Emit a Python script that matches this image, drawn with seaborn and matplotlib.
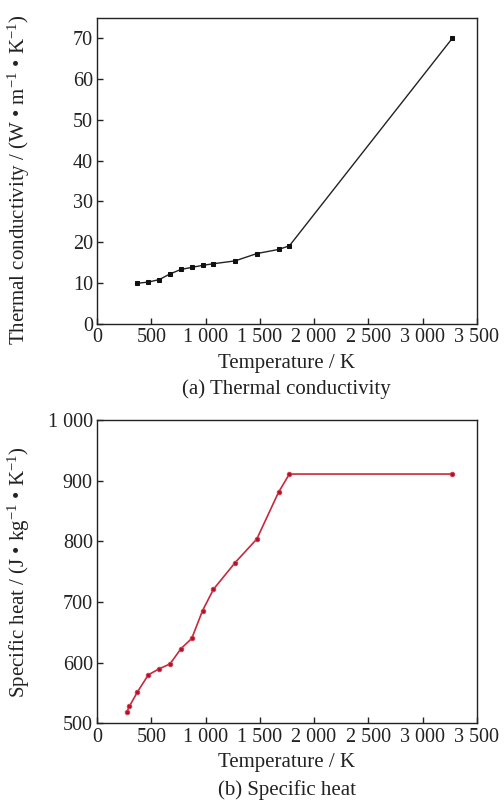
import matplotlib
matplotlib.use("Agg")
import matplotlib.pyplot as plt
import seaborn as sns
import pandas as pd

# thermal conductivity (a)
temp_k = [373, 473, 573, 673, 773, 873, 973, 1073, 1273, 1473, 1673, 1773, 3273]
conductivity = [9.9, 10.2, 10.8, 12.2, 13.3, 13.8, 14.3, 14.7, 15.4, 17.2, 18.2, 19.1, 70.0]

# specific heat (b)
temp_cp = [273, 298, 373, 473, 573, 673, 773, 873, 973, 1073, 1273, 1473, 1673, 1773, 3273]
specific_heat = [518, 528, 552, 580, 590, 598, 623, 640, 686, 721, 765, 804, 881, 911, 911]

x_ticks = [0, 500, 1000, 1500, 2000, 2500, 3000, 3500]
y_ticks_a = [0, 10, 20, 30, 40, 50, 60, 70]
y_ticks_b = [500, 600, 700, 800, 900, 1000]


def fmt(v):
    return f"{int(v):,}".replace(",", " ")


sns.set_style("ticks")
plt.rcParams["font.family"] = ["Liberation Serif", "DejaVu Serif"]
plt.rcParams["mathtext.fontset"] = "custom"
plt.rcParams["mathtext.rm"] = "Liberation Serif"
plt.rcParams["mathtext.it"] = "Liberation Serif:italic"

fig = plt.figure(figsize=(5.04, 8.05), dpi=100)
ax1 = fig.add_axes([0.1925, 0.598, 0.7535, 0.3795])
ax2 = fig.add_axes([0.1925, 0.1014, 0.7535, 0.3768])

df_a = pd.DataFrame({"T": temp_k, "k": conductivity})
df_b = pd.DataFrame({"T": temp_cp, "cp": specific_heat})

sns.lineplot(data=df_a, x="T", y="k", ax=ax1, color="#222222", lw=1.0,
             marker="s", markersize=3, markerfacecolor="#111111",
             markeredgecolor="#111111")
sns.lineplot(data=df_b, x="T", y="cp", ax=ax2, color="#c8283c", lw=1.2,
             marker="o", markersize=3.2, markerfacecolor="#b0102a",
             markeredgecolor="#d04050")

ax1.set_ylim(0, 75)
ax2.set_ylim(500, 1000)
ax1.set_yticks(y_ticks_a, [fmt(v) for v in y_ticks_a])
ax2.set_yticks(y_ticks_b, [fmt(v) for v in y_ticks_b])

for ax in (ax1, ax2):
    ax.set_xlim(0, 3500)
    ax.set_xticks(x_ticks, [fmt(v) for v in x_ticks])
    ax.tick_params(direction="in", length=4, width=1, labelsize=14.5,
                   colors="#222222", pad=3)
    for s in ax.spines.values():
        s.set_linewidth(1.0)
        s.set_color("#222222")
    ax.set_xlabel("Temperature / K", fontsize=15, color="#222222", labelpad=5)

ax1.set_ylabel("Thermal conductivity / (W • m$^{-1}$ • K$^{-1}$)",
               fontsize=15, color="#222222")
ax2.set_ylabel("Specific heat / (J • kg$^{-1}$ • K$^{-1}$)",
               fontsize=15, color="#222222")
ax1.yaxis.set_label_coords(-0.17, 0.47)
ax2.yaxis.set_label_coords(-0.17, 0.5)

fig.text(0.569, 0.5168, "(a) Thermal conductivity", ha="center", va="center",
         fontsize=15, color="#222222")
fig.text(0.569, 0.0186, "(b) Specific heat", ha="center", va="center",
         fontsize=15, color="#222222")

fig.savefig("out.png", dpi=100)
